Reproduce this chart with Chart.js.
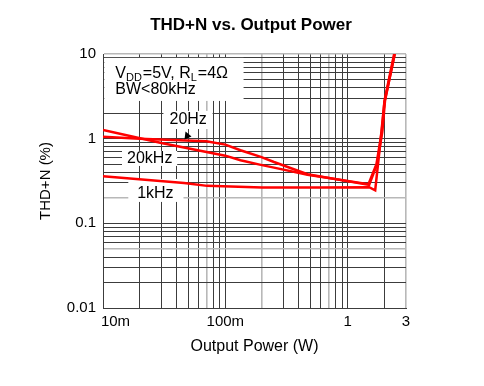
<!DOCTYPE html>
<html>
<head>
<meta charset="utf-8">
<script src="https://cdn.jsdelivr.net/npm/chart.js@4"></script>
<style>
  body { margin: 0; background: #fff; }
  #wrap { width: 484px; height: 386px; }
</style>
</head>
<body>
<div id="wrap"><canvas id="thdChart" width="484" height="386"></canvas></div>
<script>
// values (W, %)
const power20Hz = [0.01, 0.02, 0.07, 0.1, 0.133, 0.195, 0.25, 0.47, 1.5, 1.74, 1.92, 2.02, 2.42];
const thd20Hz   = [1.05, 1.0, 0.93, 0.85, 0.73, 0.61, 0.53, 0.38, 0.284, 0.5, 1.2, 2.8, 10];

const power20kHz = [0.01, 0.03, 0.1, 0.133, 0.195, 0.25, 0.47, 1.48, 1.72, 1.9, 2.0, 2.4];
const thd20kHz   = [1.27, 0.89, 0.63, 0.555, 0.49, 0.455, 0.375, 0.29, 0.5, 1.2, 2.8, 10];

const power1kHz = [0.01, 0.046, 0.071, 0.2, 0.6, 1.5, 1.68, 1.82, 2.0, 2.43];
const thd1kHz   = [0.36, 0.30, 0.277, 0.265, 0.265, 0.267, 0.245, 0.72, 2.7, 10];

const xLabelValues = [0.01, 0.1, 1, 3];
const xLabelTexts  = ['10m', '100m', '1', '3'];
const yLabelValues = [0.01, 0.1, 1, 10];
const yLabelTexts  = ['0.01', '0.1', '1', '10'];

const seriesNames = ['20Hz', '20kHz', '1kHz'];

Chart.defaults.font.family = '"Liberation Sans", Arial, sans-serif';
Chart.defaults.color = '#000';

function gridValues(min, max) {
  const out = [];
  for (let d = min; d < max * 1.0001; d *= 10) {
    for (let m = 1; m <= 9; m++) {
      const v = Number((m * d).toPrecision(3));
      if (v <= max * 1.0001) out.push(v);
    }
  }
  return out;
}

function near(a, b) { return Math.abs(a - b) / b < 1e-6; }

function labelFor(values, texts, v) {
  const i = values.findIndex(x => near(x, v));
  return i < 0 ? '' : texts[i];
}

const lightX = [0.07, 0.2, 0.7, 3];
const lightY = [0.05, 0.2, 10];

function gridColor(light) {
  return ctx => (ctx.tick && light.some(v => near(v, ctx.tick.value))) ? '#b8b8b8' : '#3c3c3c';
}
function gridWidth(light) {
  return ctx => (ctx.tick && light.some(v => near(v, ctx.tick.value))) ? 1.6 : 1;
}

function toPoints(xs, ys) {
  return xs.map((x, i) => ({ x: x, y: ys[i] }));
}

// text boxes on the plot, placed in data units
const notes = {
  boxes: [
    [0.01025, 0.141, 2.79, 9.0],
    [0.0312, 0.0787, 1.30, 2.13],
    [0.0143, 0.0404, 0.476, 0.716],
    [0.0161, 0.0455, 0.179, 0.334]
  ],
  labels: [
    { text: seriesNames[0], x: 0.0497, y: 1.66 },
    { text: seriesNames[1], x: 0.0241, y: 0.586 },
    { text: seriesNames[2], x: 0.0268, y: 0.226 }
  ],
  arrow: { x: 0.0464, y: 0.98 }
};

const notesPlugin = {
  id: 'notes',
  beforeDatasetsDraw(chart) {
    const { ctx, scales: { x, y } } = chart;
    ctx.save();
    ctx.fillStyle = '#fff';
    notes.boxes.forEach(b => {
      const x0 = x.getPixelForValue(b[0]), x1 = x.getPixelForValue(b[1]);
      const y0 = y.getPixelForValue(b[3]), y1 = y.getPixelForValue(b[2]);
      ctx.fillRect(x0, y0, x1 - x0, y1 - y0);
    });
    ctx.fillStyle = '#000';
    ctx.font = '16px "Liberation Sans", Arial, sans-serif';
    ctx.textAlign = 'center';
    ctx.textBaseline = 'middle';
    notes.labels.forEach(l => {
      ctx.fillText(l.text, x.getPixelForValue(l.x), y.getPixelForValue(l.y));
    });

    // conditions, with subscripts
    const parts = [['V'], ['DD', 1], ['=5V, R'], ['L', 1], ['=4\u03A9']];
    let px = x.getPixelForValue(0.0126);
    const py = y.getPixelForValue(5.2);
    ctx.textAlign = 'left';
    ctx.textBaseline = 'alphabetic';
    parts.forEach(p => {
      ctx.font = p[1] ? '11px "Liberation Sans", Arial, sans-serif' : '16px "Liberation Sans", Arial, sans-serif';
      ctx.fillText(p[0], px, py + (p[1] ? 3 : 0));
      px += ctx.measureText(p[0]).width + (p[1] ? 1 : 0);
    });
    ctx.font = '16px "Liberation Sans", Arial, sans-serif';
    ctx.fillText('BW<80kHz', x.getPixelForValue(0.0126), y.getPixelForValue(3.4));
    ctx.restore();
  },
  afterDatasetsDraw(chart) {
    const { ctx, scales: { x, y } } = chart;
    const tx = x.getPixelForValue(notes.arrow.x), ty = y.getPixelForValue(notes.arrow.y);
    ctx.save();
    ctx.fillStyle = '#000';
    ctx.beginPath();
    ctx.moveTo(tx, ty);
    ctx.lineTo(tx + 1, ty - 8);
    ctx.lineTo(tx + 7, ty - 3);
    ctx.closePath();
    ctx.fill();
    ctx.restore();
  }
};

const lineStyle = { borderColor: '#ff0000', borderWidth: 2.5, pointRadius: 0, tension: 0, fill: false };

new Chart(document.getElementById('thdChart'), {
  type: 'line',
  data: {
    datasets: [
      { label: seriesNames[0], data: toPoints(power20Hz, thd20Hz), ...lineStyle },
      { label: seriesNames[1], data: toPoints(power20kHz, thd20kHz), ...lineStyle },
      { label: seriesNames[2], data: toPoints(power1kHz, thd1kHz), ...lineStyle }
    ]
  },
  options: {
    responsive: false,
    animation: false,
    layout: { padding: { left: 18, right: 0, top: 0, bottom: 0 } },
    plugins: {
      legend: { display: false },
      tooltip: { enabled: false },
      title: {
        display: true,
        text: 'THD+N vs. Output Power',
        color: '#000',
        font: { size: 17, weight: 'bold' },
        padding: { top: 15, bottom: 18.6 }
      }
    },
    scales: {
      x: {
        type: 'logarithmic',
        min: 0.01,
        max: 3,
        afterBuildTicks: s => { s.ticks = gridValues(0.01, 3).map(v => ({ value: v })); },
        afterFit: s => { s.height = 78; },
        ticks: {
          autoSkip: false,
          maxRotation: 0,
          padding: 5,
          font: { size: 15 },
          color: '#000',
          callback: v => {
            const t = labelFor(xLabelValues, xLabelTexts, v);
            return near(v, 0.01) ? '      ' + t : t;
          }
        },
        grid: { drawTicks: false, color: gridColor(lightX), lineWidth: gridWidth(lightX) },
        border: { color: '#3c3c3c', width: 1 },
        title: {
          display: true,
          text: 'Output Power (W)',
          color: '#000',
          font: { size: 16 },
          padding: { top: 4, bottom: 30 }
        }
      },
      y: {
        type: 'logarithmic',
        min: 0.01,
        max: 10,
        afterBuildTicks: s => { s.ticks = gridValues(0.01, 10).map(v => ({ value: v })); },
        afterFit: s => { s.width = 85; },
        ticks: {
          autoSkip: false,
          padding: 7,
          font: { size: 15 },
          color: '#000',
          callback: v => labelFor(yLabelValues, yLabelTexts, v)
        },
        grid: { drawTicks: false, color: gridColor(lightY), lineWidth: gridWidth(lightY) },
        border: { color: '#3c3c3c', width: 1 },
        title: {
          display: true,
          text: 'THD+N (%)',
          color: '#000',
          font: { size: 15 },
          padding: { top: 19, bottom: 0 }
        }
      },
      // empty right-hand space so the plot ends at 3 W
      spacer: {
        type: 'linear',
        position: 'right',
        display: true,
        afterFit: s => { s.width = 78; },
        ticks: { display: false },
        grid: { display: false },
        border: { display: false }
      }
    }
  },
  plugins: [notesPlugin]
});
</script>
</body>
</html>
